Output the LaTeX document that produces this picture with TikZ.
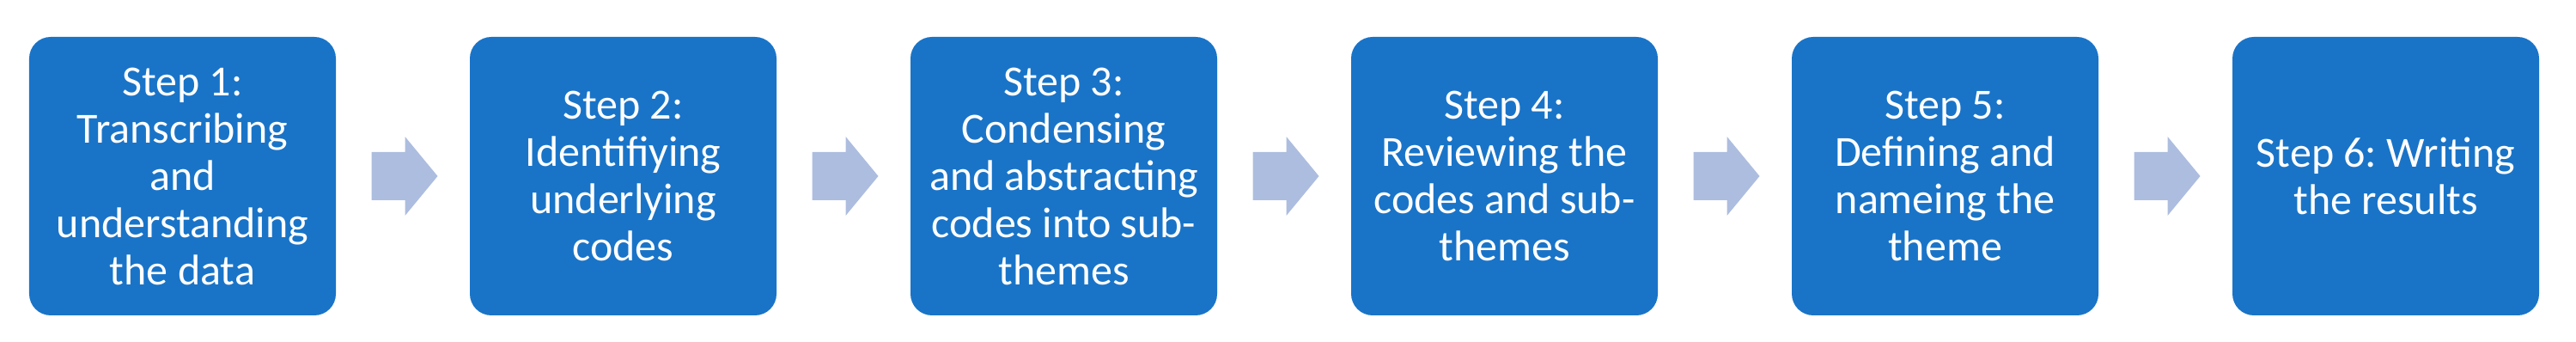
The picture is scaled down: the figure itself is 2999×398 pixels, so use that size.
\documentclass[tikz,border=0pt]{standalone}
\usepackage{fontspec}
\setmainfont{Carlito}
\usetikzlibrary{calc}
\definecolor{boxblue}{RGB}{25,116,200}
\definecolor{arrowblue}{RGB}{173,189,223}
\frenchspacing
\begin{document}
\begin{tikzpicture}[x=0.4pt,y=-0.4pt,
  stepbox/.style={fill=boxblue, rounded corners=10pt, minimum width=142.8pt,
    minimum height=129.6pt, inner sep=0pt, align=center, text=white,
    font=\fontsize{20}{22}\selectfont},
  blockarrow/.style={fill=arrowblue}]
\useasboundingbox (0,0) rectangle (2999,398);
\node[stepbox] (b1) at (212.5,205) {Step 1:\\Transcribing\\and\\understanding\\the data};
\node[stepbox] (b2) at (725.5,205) {Step 2:\\Identifiying\\underlying\\codes};
\node[stepbox] (b3) at (1238.5,205) {Step 3:\\Condensing\\and abstracting\\codes into sub-\\themes};
\node[stepbox] (b4) at (1751.5,205) {Step 4:\\Reviewing the\\codes and sub-\\themes};
\node[stepbox] (b5) at (2264.5,205) {Step 5:\\Defining and\\nameing the\\theme};
\node[stepbox] (b6) at (2777.5,205) {Step 6: Writing\\the results};
\foreach \a/\b in {b1/b2,b2/b3,b3/b4,b4/b5,b5/b6}{
  \fill[blockarrow] ($(\a.east)+(41,-28)$) -- ($(\a.east)+(80,-28)$)
    -- ($(\a.east)+(80,-46)$) -- ($(\b.west)+(-37,0)$)
    -- ($(\a.east)+(80,46)$) -- ($(\a.east)+(80,28)$)
    -- ($(\a.east)+(41,28)$) -- cycle;
}
\end{tikzpicture}
\end{document}
